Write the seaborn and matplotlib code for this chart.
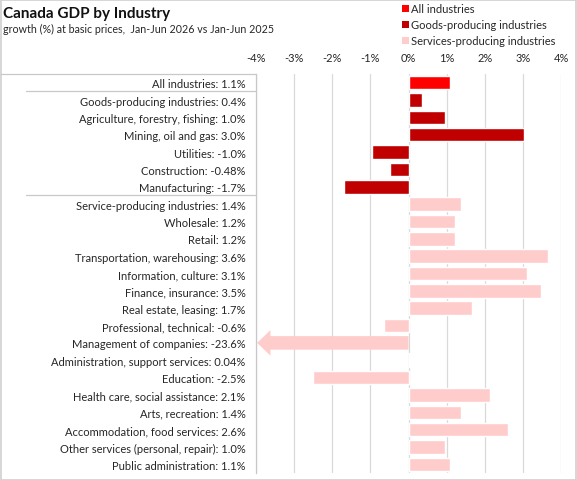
import matplotlib
matplotlib.use("Agg")
import matplotlib.pyplot as plt
import matplotlib.transforms as mtransforms
from matplotlib.patches import Patch, Polygon, Rectangle
import pandas as pd
import seaborn as sns

# values
industries = [
    "All industries", "Goods-producing industries", "Agriculture, forestry, fishing",
    "Mining, oil and gas", "Utilities", "Construction", "Manufacturing",
    "Service-producing industries", "Wholesale", "Retail", "Transportation, warehousing",
    "Information, culture", "Finance, insurance", "Real estate, leasing",
    "Professional, technical", "Management of companies",
    "Administration, support services", "Education", "Health care, social assistance",
    "Arts, recreation", "Accommodation, food services",
    "Other services (personal, repair)", "Public administration",
]
growth = [1.08, 0.35, 0.97, 3.03, -0.97, -0.48, -1.68, 1.38, 1.22, 1.22, 3.65,
          3.1, 3.48, 1.67, -0.63, -23.6, 0.04, -2.5, 2.15, 1.39, 2.6, 0.96, 1.1]
shown = ["1.1", "0.4", "1.0", "3.0", "-1.0", "-0.48", "-1.7", "1.4", "1.2", "1.2", "3.6",
         "3.1", "3.5", "1.7", "-0.6", "-23.6", "0.04", "-2.5", "2.1", "1.4", "2.6", "1.0", "1.1"]
groups = (["All industries"] + ["Goods-producing industries"] * 6
          + ["Services-producing industries"] * 16)
group_colors = {"All industries": "#FF0000",
                "Goods-producing industries": "#C00000",
                "Services-producing industries": "#FFCCCC"}
xticks = [-4, -3, -2, -1, 0, 1, 2, 3, 4]

df = pd.DataFrame({"industry": industries, "growth": growth, "group": groups})

sns.set_style("white")
plt.rcParams["font.family"] = ["Lato", "DejaVu Sans"]

W, H = 577, 481
fig = plt.figure(figsize=(W / 100, H / 100), dpi=100)
ax = fig.add_axes([256 / W, 1 - 474 / H, (561 - 256) / W, (474 - 75) / H])

sns.barplot(data=df, y="industry", x="growth", hue="group", palette=group_colors,
            saturation=1, dodge=False, orient="h", width=0.78, legend=False, ax=ax)

ax.set_xlim(xticks[0], xticks[-1])
ax.set_ylim(len(industries) - 0.5, -0.5)

# off-scale bar -> arrow
for p in list(ax.patches):
    if p.get_width() < xticks[0]:
        y0, h = p.get_y(), p.get_height()
        tip = xticks[0] + 0.03
        neck = tip + 0.35
        ext = h * 0.45
        pts = [(0, y0), (neck, y0), (neck, y0 - ext), (tip, y0 + h / 2),
               (neck, y0 + h + ext), (neck, y0 + h), (0, y0 + h)]
        ax.add_patch(Polygon(pts, closed=True, facecolor=p.get_facecolor(),
                             edgecolor="none", zorder=p.get_zorder()))
        p.remove()

ax.xaxis.tick_top()
ax.set_xticks(xticks)
ax.set_xticklabels([f"{t}%" for t in xticks])
ax.set_yticks(range(len(industries)))
ax.set_yticklabels([f"{n}: {s}%" for n, s in zip(industries, shown)])
ax.tick_params(axis="x", length=0, pad=8, labelsize=8, labelcolor="#262626")
ax.tick_params(axis="y", length=0, pad=7.5, labelsize=8, labelcolor="#262626")
ax.set_xlabel("")
ax.set_ylabel("")
ax.grid(axis="x", color="#d9d9d9", lw=0.9)
ax.set_axisbelow(True)
for s in ["top", "right", "bottom"]:
    ax.spines[s].set_visible(False)
ax.spines["left"].set_color("#c8c8c8")
ax.spines["left"].set_linewidth(0.9)

# label box lines
tr = mtransforms.blended_transform_factory(fig.transFigure, ax.transData)
ax.plot([0, 256 / W], [-0.5, -0.5], transform=tr, color="#c8c8c8", lw=0.9, clip_on=False)
for yb in [0.5, 6.5]:
    ax.plot([26 / W, 256 / W], [yb, yb], transform=tr, color="#c8c8c8", lw=0.9, clip_on=False)

fig.patches.append(Rectangle((0.001, 0.001), 0.997, 0.997, transform=fig.transFigure,
                             fill=False, edgecolor="#d0d0d0", lw=1.2))

fig.text(3 / W, 1 - 14 / H, "Canada GDP by Industry", fontsize=11, fontweight="bold",
         va="center", ha="left", color="#111111")
fig.text(3 / W, 1 - 29 / H, "growth (%) at basic prices,  Jan-Jun 2026 vs Jan-Jun 2025",
         fontsize=7.7, va="center", ha="left", color="#262626")

handles = [Patch(facecolor=c, edgecolor="none") for c in group_colors.values()]
fig.legend(handles, list(group_colors.keys()), loc="upper left",
           bbox_to_anchor=(392 / W, 1.012), frameon=False, fontsize=8,
           handlelength=0.6, handleheight=0.6, handletextpad=0.25, labelspacing=0.45,
           labelcolor="#262626")

fig.savefig("out.png", dpi=100)
